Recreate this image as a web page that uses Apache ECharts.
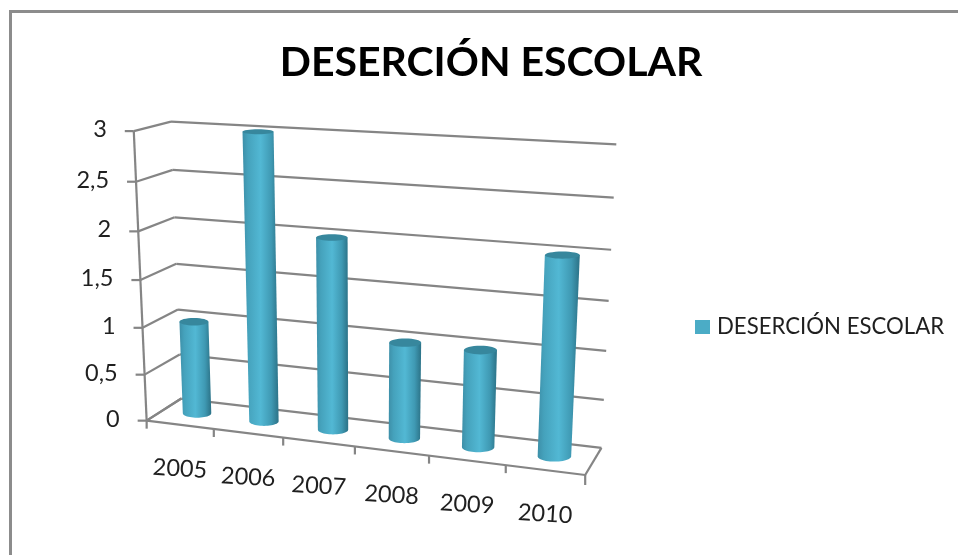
<!DOCTYPE html>
<html>
<head>
<meta charset="utf-8">
<style>html,body{margin:0;padding:0;background:#fff}#c{width:958px;height:555px}</style>
<script src="https://cdn.jsdelivr.net/npm/echarts@6/dist/echarts.min.js"></script>
</head>
<body>
<div id="c"></div>
<script>
var categories = ['2005','2006','2007','2008','2009','2010'];
var desercion = [1, 3, 2, 1, 1, 2];
var yTicks = [0, 0.5, 1, 1.5, 2, 2.5, 3];
var yLabels = ['0','0,5','1','1,5','2','2,5','3'];
var seriesName = 'DESERCIÓN ESCOLAR';

// Camera calibration of the chart's 3-D box: [along x, up, depth] -> page position.
var calib = [
 [0,0,0,147,420],[1/6,0,0,213,430],[2/6,0,0,283,438.5],[3/6,0,0,355,447],[4/6,0,0,429,456],[5/6,0,0,505.7,465],[1,0,0,585,474],
 [0,.5,0,141,279],[0,1,0,134,131],
 [0,0,1,181.7,398],[0,.5,1,176,264],[0,1,1,170.5,122],
 [1,0,1,601.7,447.7],[1,.5,1,608.6,301],[1,1,1,616.5,144.5]
];
function solveCamera(pts){
  var S=500,n=11,A=[],i,j,k,rows=[];
  pts.forEach(function(p){
    var x=p[3]/S,y=p[4]/S;
    rows.push([p[0],p[1],p[2],1,0,0,0,0,-x*p[0],-x*p[1],-x*p[2],x]);
    rows.push([0,0,0,0,p[0],p[1],p[2],1,-y*p[0],-y*p[1],-y*p[2],y]);
  });
  for(i=0;i<n;i++){A[i]=[];for(j=0;j<=n;j++){var s=0;rows.forEach(function(r){s+=r[i]*r[j];});A[i][j]=s;}}
  for(i=0;i<n;i++){
    var m=i;for(k=i+1;k<n;k++)if(Math.abs(A[k][i])>Math.abs(A[m][i]))m=k;
    var t=A[i];A[i]=A[m];A[m]=t;
    for(k=0;k<n;k++){if(k===i)continue;var f=A[k][i]/A[i][i];for(j=i;j<=n;j++)A[k][j]-=f*A[i][j];}
  }
  var v=[];for(i=0;i<n;i++)v[i]=A[i][n]/A[i][i];
  return function(u,h,d){
    var w=v[8]*u+v[9]*h+v[10]*d+1;
    return [S*(v[0]*u+v[1]*h+v[2]*d+v[3])/w,S*(v[4]*u+v[5]*h+v[6]*d+v[7])/w];
  };
}
var project = solveCamera(calib);

var grid = {left:100,top:100,width:600,height:300};
// value through the library's scales -> unit box coordinates
function unit(api,cat,val){
  var c=api.coord([cat,val]);
  return [(c[0]-grid.left)/grid.width,(grid.top+grid.height-c[1])/grid.height];
}
function seg(a,b){return {type:'line',shape:{x1:a[0],y1:a[1],x2:b[0],y2:b[1]},style:{stroke:'#858585',lineWidth:2.2}};}

var BAR_DEPTH=0.5,BAR_R=0.036,ELL_BOTTOM=0.31,ELL_FALL=0.15;
function renderBar(params,api){
  var i=api.value(0),v=api.value(1);
  var top=unit(api,i,v),u=top[0];
  var tc=project(u,top[1],BAR_DEPTH),bc=project(u,0,BAR_DEPTH);
  var tl=project(u-BAR_R,top[1],BAR_DEPTH),tr=project(u+BAR_R,top[1],BAR_DEPTH);
  var bl=project(u-BAR_R,0,BAR_DEPTH),br=project(u+BAR_R,0,BAR_DEPTH);
  var ra=(tr[0]-tl[0])/2,rb=(br[0]-bl[0])/2;
  var pts=[[tc[0]-ra,tc[1]],[tc[0]+ra,tc[1]]];
  for(var k=0;k<=24;k++){
    var t=Math.PI*k/24;
    pts.push([bc[0]+rb*Math.cos(t),bc[1]+rb*ELL_BOTTOM*Math.sin(t)]);
  }
  var grad=new echarts.graphic.LinearGradient(0,0,1,0,[
    {offset:0,color:'#3d8fa8'},{offset:.15,color:'#45a2bc'},{offset:.5,color:'#52b8d4'},
    {offset:.8,color:'#3f99b3'},{offset:.95,color:'#307b91'},{offset:1,color:'#2e7489'}]);
  return {type:'group',children:[
    {type:'polygon',shape:{points:pts},style:{fill:grad}},
    {type:'ellipse',shape:{cx:tc[0],cy:tc[1],rx:ra,ry:ra*(ELL_BOTTOM-ELL_FALL*top[1])},style:{fill:'#37879d'}}
  ]};
}
function renderGridLine(params,api){
  var h=unit(api,0,api.value(0))[1];
  var f=project(0,h,0),b=project(0,h,1),r=project(1,h,1);
  return {type:'group',children:[seg(f,b),seg(b,r),seg([f[0]-9,f[1]],f)]};
}
function renderYLabel(params,api){
  var h=unit(api,0,api.value(0))[1],f=project(0,h,0);
  return {type:'text',style:{text:yLabels[params.dataIndex],x:f[0]-27,y:f[1]-1.5,align:'right',verticalAlign:'middle',
    fontFamily:'Lato',fontSize:23.5,fill:'#1f1f1f'}};
}
function renderFrame(params,api){
  var a=project(0,0,0),b=project(0,1,0),c=project(1,0,0),d=project(1,0,1),e=project(0,0,1);
  return {type:'group',children:[seg(a,b),seg(a,c),seg(c,d),seg(a,e),seg(a,[a[0],a[1]+8])]};
}
function renderXTick(params,api){
  var i=api.value(0),u=unit(api,i,0)[0]+api.size([1,0])[0]/grid.width/2;
  var p=project(u,0,0);
  return seg(p,[p[0],p[1]+(i===categories.length-1?10:8)]);
}
function renderXLabel(params,api){
  var i=api.value(0),u=unit(api,i,0)[0],p=project(u,0,0);
  return {type:'text',rotation:-0.06,x:p[0],y:p[1]+44,style:{text:categories[i],x:0,y:0,align:'center',verticalAlign:'middle',
    fontFamily:'Lato',fontSize:23.5,fill:'#1f1f1f'}};
}
var catIdx=categories.map(function(c,i){return [i];});
var tickIdx=yTicks.map(function(t){return [t];});
function extra(name,render,data,encode,z){
  return {type:'custom',name:name,renderItem:render,data:data,encode:encode,z:z,coordinateSystem:'cartesian2d',silent:true,animation:false,tooltip:{show:false}};
}
var barSeries=extra(seriesName,renderBar,categories.map(function(c,i){return [i,desercion[i]];}),{x:0,y:1},2);
barSeries.itemStyle={color:'#4BACC6'};
var option={
  animation:false,
  backgroundColor:'#ffffff',
  title:{text:seriesName,left:486,top:37,textAlign:'center',textStyle:{fontFamily:'Lato',fontWeight:'bold',fontSize:41,color:'#000000'}},
  legend:{data:[{name:seriesName,icon:'rect'}],left:690,top:311,itemWidth:15,itemHeight:14,itemGap:8,selectedMode:false,
    textStyle:{fontFamily:'Lato',fontSize:22.2,color:'#1f1f1f',padding:[0,0,0,2]}},
  graphic:[{type:'polyline',silent:true,shape:{points:[[10.5,555],[10.5,11.5],[958,11.5]]},style:{stroke:'#8c8c8c',lineWidth:3,fill:null}}],
  grid:grid,
  xAxis:{type:'category',data:categories,show:false},
  yAxis:{type:'value',min:0,max:3,interval:0.5,show:false},
  series:[
    extra('gridlines',renderGridLine,tickIdx,{y:0},1),
    extra('frame',renderFrame,[[0]],{},1),
    extra('xticks',renderXTick,catIdx,{x:0},1),
    extra('ylabels',renderYLabel,tickIdx,{y:0},3),
    extra('xlabels',renderXLabel,catIdx,{x:0},3),
    barSeries
  ]
};
var chart=echarts.init(document.getElementById('c'),null,{renderer:'canvas'});
chart.setOption(option);
</script>
</body>
</html>
